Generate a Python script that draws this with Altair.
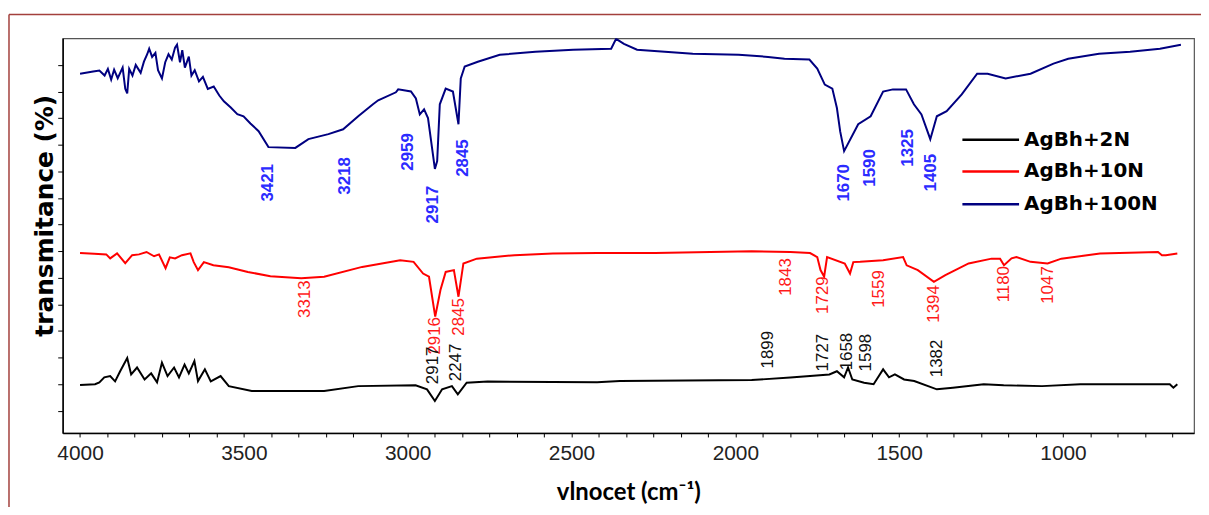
import altair as alt
import pandas as pd

# ---------------- data ----------------
series_names = ["AgBh+2N", "AgBh+10N", "AgBh+100N"]
line_colors = ["#000000", "#ff0000", "#000080"]

wn_2N = [4000, 3954, 3941, 3926, 3908, 3893, 3878, 3856, 3844, 3826, 3803, 3783, 3765, 3750, 3733,
         3713, 3698, 3681, 3668, 3651, 3640, 3619, 3601, 3571, 3546, 3476, 3255, 3151, 2976, 2941,
         2917, 2895, 2865, 2847, 2820, 2756, 2422, 2352, 1950, 1832, 1772, 1713, 1690, 1668, 1656,
         1643, 1607, 1578, 1561, 1549, 1531, 1513, 1485, 1454, 1385, 1336, 1242, 1181, 1064, 947,
         674, 663, 651]
t_2N = [9.7, 10.0, 10.7, 12.6, 13.1, 11.1, 14.8, 19.9, 13.7, 16.3, 11.8, 14.1, 10.7, 18.1, 13.1,
        16.3, 12.6, 17.4, 14.1, 18.7, 11.2, 15.6, 11.1, 13.1, 9.3, 7.5, 7.5, 9.3, 9.6, 8.1,
        3.7, 8.1, 9.3, 6.2, 10.6, 11.0, 10.8, 11.2, 11.6, 12.5, 13.1, 13.7, 14.9, 12.6, 16.3,
        11.8, 10.6, 10.0, 13.3, 15.6, 12.6, 13.7, 11.8, 11.2, 8.1, 8.7, 10.0, 9.6, 9.3, 10.0,
        10.0, 8.7, 10.0]

wn_10N = [4000, 3957, 3920, 3908, 3887, 3862, 3841, 3820, 3797, 3774, 3759, 3739, 3726, 3710, 3689,
          3663, 3653, 3640, 3622, 3593, 3546, 3488, 3419, 3325, 3255, 3139, 3023, 2982, 2953, 2935,
          2916, 2900, 2884, 2859, 2845, 2830, 2789, 2674, 2557, 2422, 2245, 1950, 1832, 1772, 1750,
          1740, 1729, 1720, 1666, 1650, 1640, 1619, 1549, 1488, 1477, 1443, 1394, 1359, 1288, 1218,
          1192, 1180, 1157, 1142, 1099, 1047, 1005, 887, 710, 698, 686, 651]
t_10N = [59.3, 59.0, 58.8, 57.3, 59.2, 55.5, 58.5, 58.8, 59.7, 58.1, 58.8, 53.6, 57.7, 57.3, 58.5,
         59.2, 55.9, 52.9, 55.9, 54.7, 54.0, 52.2, 50.6, 49.8, 50.4, 54.1, 56.6, 56.0, 51.6, 50.4,
         35.4, 45.4, 52.2, 52.9, 42.9, 55.4, 57.2, 58.5, 59.1, 59.3, 59.3, 60.0, 59.7, 59.3, 57.8,
         52.9, 50.4, 57.8, 55.4, 51.6, 55.9, 56.0, 56.6, 57.8, 54.7, 52.9, 48.5, 51.0, 55.4, 57.2,
         57.2, 54.7, 57.3, 57.8, 56.0, 55.4, 57.2, 59.1, 59.7, 58.5, 58.5, 59.1]

wn_100N = [4000, 3960, 3941, 3925, 3915, 3905, 3896, 3885, 3870, 3862, 3856, 3850, 3840, 3830, 3815,
           3805, 3795, 3789, 3780, 3770, 3762, 3750, 3740, 3730, 3720, 3710, 3704, 3695, 3688, 3680,
           3668, 3660, 3650, 3637, 3625, 3610, 3592, 3575, 3561, 3540, 3520, 3501, 3480, 3455, 3425,
           3343, 3303, 3242, 3197, 3151, 3106, 3090, 3036, 3029, 2990, 2975, 2963, 2950, 2938, 2917,
           2910, 2902, 2884, 2862, 2845, 2838, 2826, 2786, 2719, 2610, 2495, 2379, 2364, 2340, 2300,
           2130, 1990, 1900, 1850, 1774, 1750, 1727, 1704, 1690, 1680, 1668, 1625, 1587, 1549, 1519,
           1479, 1455, 1432, 1405, 1385, 1355, 1309, 1262, 1230, 1175, 1099, 1029, 984, 890, 795,
           704, 640]
t_100N = [126.7, 127.5, 127.9, 126.0, 128.5, 124.5, 128.2, 125.0, 129.0, 121.0, 119.3, 128.5, 126.0, 130.0, 127.0,
          131.2, 134.0, 136.1, 133.0, 134.5, 128.0, 124.9, 131.0, 134.0, 132.0, 136.5, 137.6, 131.0, 135.5, 129.0,
          133.1, 126.0, 128.0, 123.8, 125.5, 121.0, 121.9, 118.5, 116.3, 114.0, 111.5, 110.7, 108.0, 105.1, 99.1,
          98.8, 102.1, 104.0, 105.8, 110.7, 115.2, 116.7, 119.7, 120.8, 120.0, 117.4, 111.4, 113.3, 110.0, 90.9,
          93.9, 115.2, 121.1, 120.0, 107.7, 124.9, 129.4, 131.2, 133.8, 134.9, 135.7, 136.1, 139.8, 137.9, 135.7,
          134.2, 133.8, 133.0, 132.3, 132.0, 128.6, 122.6, 121.1, 113.8, 105.0, 97.6, 107.7, 110.7, 120.0, 120.8,
          120.8, 115.2, 111.4, 102.1, 110.7, 112.6, 118.9, 126.7, 126.7, 124.9, 126.7, 130.5, 132.3, 134.2, 134.9,
          136.1, 137.6]

# peak annotations (text, wavenumber position, transmittance position)
lab_100N_text = ["3421", "3218", "2959", "2917", "2845", "1670", "1590", "1325", "1405"]
lab_100N_wn = [3425, 3190, 2999, 2923, 2832, 1668, 1589, 1473, 1403]
lab_100N_t = [85.7, 88.3, 97.3, 77.5, 95.0, 85.7, 91.3, 98.8, 89.5]

lab_10N_text = ["3313", "2916", "2845", "1843", "1729", "1559", "1394", "1180", "1047"]
lab_10N_wn = [3314, 2917, 2842, 1844, 1731, 1560, 1394, 1181, 1047]
lab_10N_t = [42.0, 28.2, 35.3, 50.3, 43.5, 45.8, 40.2, 47.6, 47.3]

lab_2N_text = ["2917", "2247", "1899", "1727", "1658", "1598", "1382"]
lab_2N_wn = [2923, 2853, 1901, 1731, 1660, 1601, 1383]
lab_2N_t = [17.1, 18.2, 23.0, 21.9, 22.3, 21.9, 19.7]

x_tick_labels = [4000, 3500, 3000, 2500, 2000, 1500, 1000]
y_tick_values = [0, 10, 20, 30, 40, 50, 60, 70, 80, 90, 100, 110, 120, 130]

# ---------------- tables ----------------
rows = []
for name, wns, ts in zip(series_names, [wn_2N, wn_10N, wn_100N], [t_2N, t_10N, t_100N]):
    for w, t in zip(wns, ts):
        rows.append({"series": name, "wn": w, "t": t})
df = pd.DataFrame(rows)

def lab_df(texts, wns, ts):
    return pd.DataFrame({"label": texts, "wn": wns, "t": ts})

x_scale = alt.Scale(domain=[600, 4053], reverse=True, nice=False, zero=False)
y_scale = alt.Scale(domain=[-8.3, 140], nice=False, zero=False)

# minor ticks every 500/6 cm-1 as on the original axis; labels only at x_tick_labels
x_minor = [4000 - k * 500 / 6 for k in range(41)]
label_list = ",".join(str(v) for v in x_tick_labels)

x_axis = alt.Axis(
    values=x_minor,
    labelExpr="indexof([" + label_list + "], round(datum.value)) >= 0 && abs(datum.value - round(datum.value)) < 0.01 ? format(round(datum.value), 'd') : ''",
    labelOverlap=False, labelFlush=False, grid=False,
    tickSize=4, tickColor="black", tickWidth=1,
    domainColor="black", domainWidth=1.5,
    labelFont="Liberation Sans", labelFontSize=21, labelColor="#222222", labelPadding=6,
    title="vlnocet (cm⁻¹)", titleFont="Lato", titleFontSize=24, titleFontWeight="bold",
    titleColor="black", titleBaseline="alphabetic", titleAlign="center", titleX=569, titleY=67,
)
y_axis = alt.Axis(
    values=y_tick_values, labels=False, grid=False,
    tickSize=5, tickColor="black", tickWidth=1,
    domainColor="black", domainWidth=1.5,
    title="transmitance (%)", titleFont="DejaVu Sans", titleFontSize=25, titleFontWeight="bold",
    titleColor="black", titleAngle=270, titleBaseline="alphabetic", titleAlign="center",
    titleX=-10, titleY=178,
)

X = alt.X("wn:Q", scale=x_scale, axis=x_axis)
Y = alt.Y("t:Q", scale=y_scale, axis=y_axis)

lines = alt.Chart(df).mark_line(strokeWidth=2, clip=True).encode(
    x=X, y=Y,
    color=alt.Color("series:N", scale=alt.Scale(domain=series_names, range=line_colors), legend=None),
    detail="series:N",
)

def label_layer(d, color, weight):
    return alt.Chart(d).mark_text(
        angle=270, align="center", baseline="middle", font="Liberation Sans",
        fontSize=17, fontWeight=weight, color=color,
    ).encode(x=X, y=Y, text="label:N")

lab_blue = label_layer(lab_df(lab_100N_text, lab_100N_wn, lab_100N_t), "#2b2bff", "bold")
lab_red = label_layer(lab_df(lab_10N_text, lab_10N_wn, lab_10N_t), "#ff1a1a", "normal")
lab_black = label_layer(lab_df(lab_2N_text, lab_2N_wn, lab_2N_t), "#111111", "normal")

# legend (drawn manually, in the plot's upper right)
legend_rows_y = [102, 134, 167]
legend_layers = []
for name, col, ry in zip(series_names, line_colors, legend_rows_y):
    one = pd.DataFrame({"s": [name]})
    legend_layers.append(
        alt.Chart(one).mark_rule(color=col, strokeWidth=2.5).encode(
            x=alt.value(905), x2=alt.value(962), y=alt.value(ry)))
    legend_layers.append(
        alt.Chart(one).mark_text(align="left", baseline="middle", font="DejaVu Sans",
                                 fontWeight="bold", fontSize=20, color="black").encode(
            x=alt.value(967), y=alt.value(ry), text="s:N"))

# outer dark-red frame of the figure
frame_df = pd.DataFrame({"f": [0]})
frame_left = alt.Chart(frame_df).mark_rule(color="#a3403c", strokeWidth=1.5).encode(
    x=alt.value(-54), y=alt.value(-24), y2=alt.value(475))
frame_top = alt.Chart(frame_df).mark_rule(color="#a3403c", strokeWidth=1.5).encode(
    x=alt.value(-54), x2=alt.value(1145), y=alt.value(-24))

chart = alt.layer(
    lines, lab_blue, lab_red, lab_black, *legend_layers, frame_left, frame_top
).properties(
    width=1138, height=397,
    autosize=alt.AutoSizeParams(type="none"),
    padding={"left": 55, "top": 29, "right": 7, "bottom": 73},
    background="white",
).configure_view(stroke="#555555", strokeWidth=1.2)

chart.save("out.html", embed_options={"renderer": "svg", "actions": False})
